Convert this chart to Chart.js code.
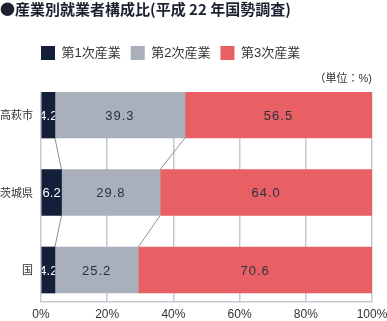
<!DOCTYPE html>
<html>
<head>
<meta charset="utf-8">
<script src="https://cdn.jsdelivr.net/npm/chart.js@4"></script>
<style>
  html, body { margin: 0; padding: 0; background: #fff; }
  #wrap { width: 387px; height: 321px; }
</style>
</head>
<body>
<div id="wrap"><canvas id="myChart" width="387" height="321"></canvas></div>
<script>
// data (平成22年国勢調査, %)
const categories = ['高萩市', '茨城県', '国'];
const seriesNames = ['第1次産業', '第2次産業', '第3次産業'];
const primary = [4.2, 6.2, 4.2];
const secondary = [39.3, 29.8, 25.2];
const tertiary = [56.5, 64.0, 70.6];
const xTicks = [0, 20, 40, 60, 80, 100];

const colors = ['#14203a', '#a9afbb', '#e96064'];
const FONT = "'Liberation Sans', 'Noto Sans CJK JP', sans-serif";
const JP = "'Noto Sans CJK JP', sans-serif";

var ctx = document.getElementById('myChart');

function toPoints(arr) {
    return arr.map((v, i) => ({ x: v, y: i }));
}

// move the legend so its first box lines up with the plot area
const legendShift = {
    id: 'legendShift',
    afterLayout(chart) {
        const l = chart.legend;
        const d = chart.chartArea.left - l.left - l.options.labels.padding;
        l.left += d;
        l.right += d;
    }
};

// category names, right aligned just left of the plot
const catLabels = {
    id: 'catLabels',
    afterDraw(chart) {
        const c = chart.ctx;
        const ys = chart.scales.y;
        c.save();
        c.font = '11px ' + JP;
        c.fillStyle = '#333';
        c.textAlign = 'right';
        c.textBaseline = 'middle';
        categories.forEach((name, i) => {
            c.fillText(name, chart.chartArea.left - 8, ys.getPixelForValue(i));
        });
        c.restore();
    }
};

// thin lines joining the segment borders of neighbouring bars
const connectors = {
    id: 'connectors',
    beforeDatasetsDraw(chart) {
        const c = chart.ctx;
        const xs = chart.scales.x;
        const bars = chart.getDatasetMeta(0).data;
        const cum = categories.map((_, i) => [primary[i], primary[i] + secondary[i]]);
        c.save();
        c.strokeStyle = '#8a8f99';
        c.lineWidth = 1;
        for (let i = 0; i < categories.length - 1; i++) {
            const b1 = bars[i].y + bars[i].height / 2;
            const t2 = bars[i + 1].y - bars[i + 1].height / 2;
            for (let k = 0; k < 2; k++) {
                c.beginPath();
                c.moveTo(xs.getPixelForValue(cum[i][k]), b1);
                c.lineTo(xs.getPixelForValue(cum[i + 1][k]), t2);
                c.stroke();
            }
        }
        c.restore();
    }
};

// value labels in the middle of each segment
const valueLabels = {
    id: 'valueLabels',
    afterDatasetsDraw(chart) {
        const c = chart.ctx;
        chart.data.datasets.forEach((ds, di) => {
            chart.getDatasetMeta(di).data.forEach((bar, i) => {
                const v = ds.data[i].x;
                const left = Math.min(bar.x, bar.base);
                const w = Math.abs(bar.x - bar.base);
                c.save();
                c.beginPath();
                c.rect(left, bar.y - bar.height / 2, w, bar.height);
                c.clip();
                c.font = '13px ' + FONT;
                c.letterSpacing = di == 0 ? '0px' : '1px';
                c.fillStyle = di == 0 ? '#ffffff' : '#2b3040';
                c.textAlign = 'center';
                c.textBaseline = 'middle';
                c.fillText(v.toFixed(1), left + w / 2, bar.y + 1);
                c.restore();
            });
        });
    }
};

var myChart = new Chart(ctx, {
    type: 'bar',
    data: {
        datasets: [
            { label: seriesNames[0], data: toPoints(primary), backgroundColor: colors[0] },
            { label: seriesNames[1], data: toPoints(secondary), backgroundColor: colors[1] },
            { label: seriesNames[2], data: toPoints(tertiary), backgroundColor: colors[2] }
        ]
    },
    options: {
        indexAxis: 'y',
        responsive: false,
        animation: false,
        barThickness: 46,
        layout: { padding: { left: 0, right: 0, top: 0, bottom: 0 } },
        scales: {
            x: {
                stacked: true,
                min: 0,
                max: 100,
                afterBuildTicks: (s) => { s.ticks = xTicks.map(v => ({ value: v })); },
                afterFit: (s) => { s.height = 19; s.paddingRight = 15; s.paddingLeft = 0; },
                grid: { color: '#c5c9d3', lineWidth: 1.5, drawTicks: false },
                border: { display: true, color: '#c5c9d3', width: 1.5 },
                ticks: {
                    padding: 7,
                    color: '#333',
                    font: { family: FONT, size: 12, lineHeight: 1 },
                    callback: (v) => v + '%'
                }
            },
            y: {
                type: 'linear',
                stacked: true,
                reverse: true,
                offset: false,
                min: -0.297,
                max: 2.413,
                afterBuildTicks: (s) => { s.ticks = categories.map((_, i) => ({ value: i })); },
                afterFit: (s) => { s.width = 41; },
                grid: { display: false },
                border: { display: false },
                ticks: { display: false }
            }
        },
        plugins: {
            title: {
                display: true,
                text: '●産業別就業者構成比(平成 22 年国勢調査)',
                align: 'start',
                color: '#1c2130',
                font: { family: JP, size: 15, weight: 'bold' },
                padding: { top: 0, bottom: 18 }
            },
            legend: {
                display: true,
                align: 'start',
                labels: {
                    boxWidth: 14,
                    boxHeight: 14,
                    padding: 10,
                    color: '#333',
                    font: { family: FONT, size: 13 }
                }
            },
            subtitle: {
                display: true,
                text: '（単位：%)',
                align: 'end',
                fullSize: false,
                weight: 500,
                color: '#333',
                font: { family: FONT, size: 11 },
                padding: { top: 2.4, bottom: 6.4 }
            },
            tooltip: { enabled: false }
        }
    },
    plugins: [legendShift, catLabels, connectors, valueLabels]
});
</script>
</body>
</html>
